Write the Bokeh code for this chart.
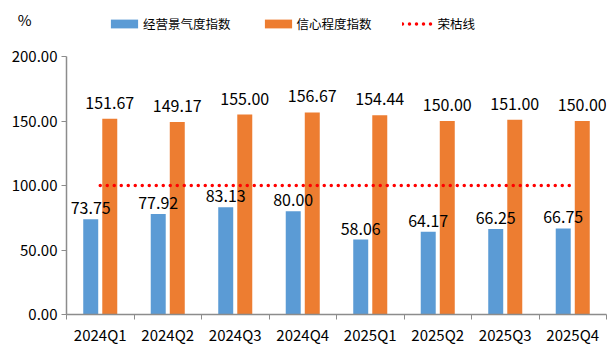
import numpy as np
from bokeh.plotting import figure
from bokeh.layouts import column
from bokeh.models import (ColumnDataSource, FixedTicker, NumeralTickFormatter, LabelSet,
                          Legend, LegendItem, Range1d)
from bokeh.core.properties import value
from bokeh.transform import dodge
from bokeh.embed import file_html
from bokeh.resources import INLINE

categories = ["2024Q1", "2024Q2", "2024Q3", "2024Q4", "2025Q1", "2025Q2", "2025Q3", "2025Q4"]
business = [73.75, 77.92, 83.13, 80.00, 58.06, 64.17, 66.25, 66.75]
confidence = [151.67, 149.17, 155.00, 156.67, 154.44, 150.00, 151.00, 150.00]
boom_line = [100, 100, 100, 100, 100, 100, 100, 100]
y_ticks = [0, 50, 100, 150, 200]
series_names = ["经营景气度指数", "信心程度指数", "荣枯线"]
unit_label = "%"

FONT = "Noto Sans CJK SC"
BLUE = "#5B9BD5"
ORANGE = "#ED7D31"
RED = "#FF0000"
AXIS = "#8c8c8c"

xc = np.arange(len(categories)) + 0.5
src = ColumnDataSource(dict(
    x=xc, cat=categories, b=business, c=confidence, line=boom_line,
    bl=[f"{v:.2f}" for v in business], cl=[f"{v:.2f}" for v in confidence],
))

bw = 0.222
off = 0.141


def add_series(fig):
    a = fig.vbar(x=dodge("x", -off, range=fig.x_range), top="b", width=bw, source=src,
                 fill_color=BLUE, line_color=None)
    b = fig.vbar(x=dodge("x", off, range=fig.x_range), top="c", width=bw, source=src,
                 fill_color=ORANGE, line_color=None)
    c = fig.line(x="x", y="line", source=src, line_color=RED, line_width=3.5,
                 line_dash="0 7", line_cap="round")
    return a, b, c


# ---------- header strip: unit label (as axis label) and legend ----------
head = figure(width=616, height=37, output_backend="svg", toolbar_location=None,
              x_range=Range1d(0, len(categories)), y_range=Range1d(0, 1),
              x_axis_location=None, y_axis_location="left",
              min_border_left=0, min_border_right=0, min_border_top=0, min_border_bottom=0)
head.outline_line_color = None
head.xgrid.visible = False
head.ygrid.visible = False
h1, h2, h3 = add_series(head)
for r in (h1, h2, h3):
    r.visible = False

hy = head.yaxis[0]
hy.ticker = FixedTicker(ticks=[], minor_ticks=[])
hy.axis_line_color = None
hy.major_tick_line_color = None
hy.minor_tick_line_color = None
hy.major_label_text_font_size = "0px"
hy.axis_label = unit_label
hy.axis_label_orientation = "horizontal"
hy.axis_label_standoff = 35
hy.axis_label_text_font = FONT
hy.axis_label_text_font_size = "15px"
hy.axis_label_text_font_style = "normal"
hy.axis_label_text_color = "#000000"

legend = Legend(items=[LegendItem(label=series_names[0], renderers=[h1]),
                       LegendItem(label=series_names[1], renderers=[h2]),
                       LegendItem(label=series_names[2], renderers=[h3])],
                orientation="horizontal", location=(41, 4),
                glyph_width=34, glyph_height=11, label_standoff=2, spacing=30,
                padding=0, margin=0, border_line_color=None, background_fill_alpha=0,
                label_text_font=FONT, label_text_font_size="12.5px", label_text_color="#000000")
head.add_layout(legend, "center")

# ---------- main chart ----------
p = figure(width=616, height=312, output_backend="svg", toolbar_location=None,
           x_range=Range1d(0, len(categories)), y_range=Range1d(0, 200),
           min_border_left=66, min_border_right=10, min_border_top=19, min_border_bottom=35)
p.outline_line_color = None
p.xgrid.visible = False
p.ygrid.visible = False
p.background_fill_color = "white"
p.border_fill_color = "white"

add_series(p)

lb1 = LabelSet(x=dodge("x", -off, range=p.x_range), y="b", text="bl", source=src,
               text_align="center", text_baseline="bottom", y_offset=5,
               text_font=value(FONT), text_font_size="16px", text_color="#000000")
lb2 = LabelSet(x=dodge("x", off, range=p.x_range), y="c", text="cl", source=src,
               text_align="center", text_baseline="bottom", y_offset=10,
               text_font=value(FONT), text_font_size="16px", text_color="#000000")
p.add_layout(lb1)
p.add_layout(lb2)

xa = p.xaxis[0]
xa.ticker = FixedTicker(ticks=list(xc), minor_ticks=list(range(len(categories) + 1)))
xa.major_label_overrides = {float(v): c for v, c in zip(xc, categories)}
xa.major_tick_out = 0
xa.major_tick_in = 0
xa.minor_tick_out = 5
xa.minor_tick_in = 0
xa.minor_tick_line_color = AXIS
xa.axis_line_color = AXIS
xa.axis_line_width = 1.5
xa.major_label_text_font = FONT
xa.major_label_text_font_size = "15px"
xa.major_label_text_color = "#000000"
xa.major_label_standoff = 4

ya = p.yaxis[0]
ya.ticker = FixedTicker(ticks=y_ticks, minor_ticks=[])
ya.formatter = NumeralTickFormatter(format="0.00")
ya.major_tick_out = 5
ya.major_tick_in = 0
ya.minor_tick_out = 0
ya.minor_tick_in = 0
ya.major_tick_line_color = AXIS
ya.axis_line_color = AXIS
ya.axis_line_width = 1.5
ya.major_label_text_font = FONT
ya.major_label_text_font_size = "15px"
ya.major_label_text_color = "#000000"
ya.major_label_standoff = 4

layout = column(head, p, spacing=0)
open("out.html", "w").write(file_html(layout, INLINE))
